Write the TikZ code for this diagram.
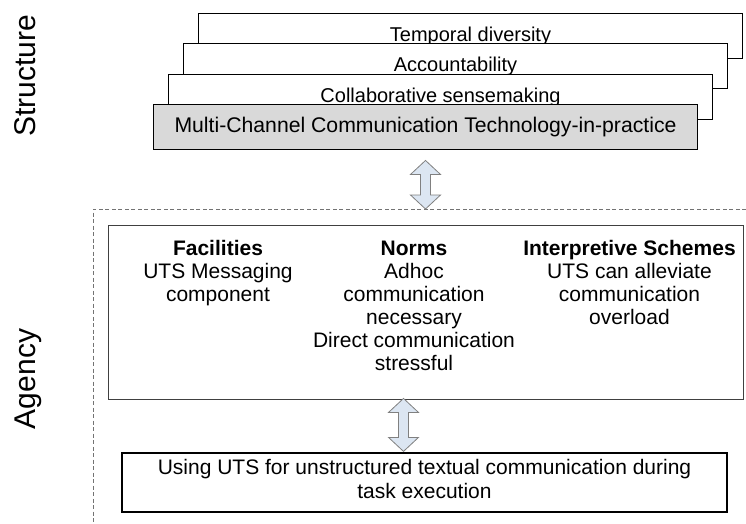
\documentclass[tikz,border=0pt]{standalone}
\usepackage{fontspec}
\setmainfont{Liberation Sans}
\usetikzlibrary{calc}
\definecolor{arrowfill}{HTML}{DCE6F2}
\definecolor{arrowline}{HTML}{808080}
\definecolor{graybox}{HTML}{D9D9D9}
\newcommand{\blockdblarrow}[2]{%
  \path[arrowstyle] let \p1=(#1), \p2=(#2) in
    (\x1,\y1) -- ++(15pt,-14pt) -- ++(-10pt,0pt) -- (\x1+5pt,\y2+14pt)
    -- ++(10pt,0pt) -- (\x1,\y2) -- ++(-15pt,14pt) -- ++(10pt,0pt)
    -- (\x1-5pt,\y1-14pt) -- ++(-10pt,0pt) -- cycle;}
\begin{document}
\begin{tikzpicture}[x=1pt,y=-1pt,
  layerbox/.style={draw=black, fill=white, line width=0.9pt, minimum width=544pt,
    minimum height=45pt, inner sep=0pt, text height=16.5pt, text depth=4pt,
    font=\fontsize{20}{24}\selectfont},
  sidelabel/.style={rotate=90, anchor=base, font=\fontsize{30}{36}\selectfont},
  coltext/.style={align=center, inner sep=0pt, anchor=north, font=\fontsize{21}{23}\selectfont},
  arrowstyle/.style={draw=arrowline, fill=arrowfill, line width=0.8pt, line join=miter},
  frame/.style={draw=black!55, line width=0.9pt, dash pattern=on 4pt off 2.5pt}]
\useasboundingbox (0,0) rectangle (746,524);

% side labels
\node[sidelabel] (structure) at (35,76) {Structure};
\node[sidelabel] (agency) at (35,379) {Agency};

% stacked structure layers
\node[layerbox] (temporal) at (470.5,35.5) {Temporal diversity};
\node[layerbox] (account) at (455.5,65.5) {Accountability};
\node[layerbox] (collab) at (440.5,96.5) {Collaborative sensemaking};
\node[layerbox, fill=graybox, text height=15.5pt, text depth=4.5pt,
  font=\fontsize{21.2}{24}\selectfont] (mcct) at (425.5,126.5)
  {Multi-Channel Communication Technology-in-practice};

% dashed agency frame
\draw[frame] (746,209) -- (93,209) -- (93,524);

% agency box
\node[draw=black!75, line width=0.9pt, minimum width=635pt, minimum height=174pt, inner sep=0pt]
  (agencybox) at (425.5,312) {};
\node[coltext] (facilities) at (218,240.5) {\textbf{Facilities}\\UTS Messaging\\component};
\node[coltext] (norms) at (414,240.5) {\textbf{Norms}\\Adhoc\\communication\\necessary\\Direct communication\\stressful};
\node[coltext] (schemes) at (629.5,240.5) {\textbf{Interpretive Schemes}\\UTS can alleviate\\communication\\overload};

% bottom box
\node[draw=black, line width=1.2pt, minimum width=605pt, minimum height=59pt, inner sep=0pt]
  (usage) at (424.5,482.5) {};
\node[align=center, inner sep=0pt, font=\fontsize{21}{24}\selectfont] (usagetext) at (424.5,478.5)
  {Using UTS for unstructured textual communication during\\task execution};

% double arrows
\coordinate (a1top) at ($(mcct.south)+(0,11)$);
\coordinate (a1bot) at (425.5,209);
\blockdblarrow{a1top}{a1bot}
\coordinate (a2top) at ($(agencybox.south)+(-22,-1)$);
\coordinate (a2bot) at ($(usage.north)+(-21,-1)$);
\blockdblarrow{a2top}{a2bot}
\end{tikzpicture}
\end{document}
